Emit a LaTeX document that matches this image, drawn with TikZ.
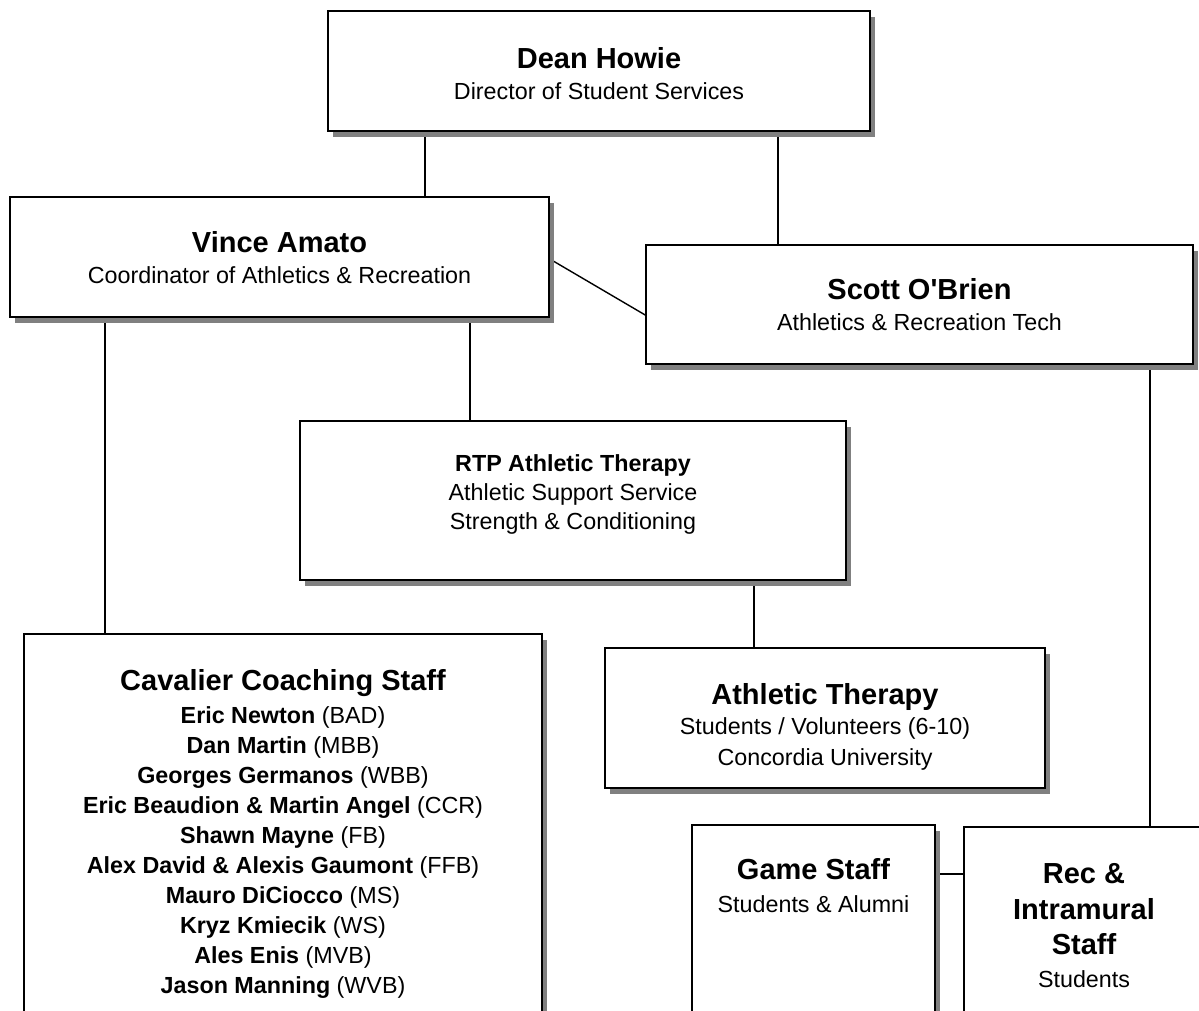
\documentclass[tikz,border=0pt]{standalone}
\usepackage{fontspec}
\setmainfont{Liberation Sans}
\usetikzlibrary{shadows}
\pgfdeclarelayer{bg}
\pgfsetlayers{bg,main}
\newcommand{\hd}[1]{{\fontsize{29}{30}\selectfont\bfseries #1}}
\tikzset{
  box/.style={draw,line width=1.6pt,fill=white,align=center,inner sep=0pt,anchor=north,
    font=\fontsize{23.3}{30}\selectfont,
    drop shadow={shadow xshift=5pt,shadow yshift=-6pt,fill=black!50,opacity=1}},
  link/.style={line width=1.4pt},
}
\begin{document}
\begin{tikzpicture}[x=1pt,y=-1pt]
\useasboundingbox (0,0) rectangle (1199,1011);
% boxes: top edge, last baseline (text height) and bottom edge (text depth)
\node[box,minimum width=542,text height=88.3,text depth=31.7] (dean) at (599,10)
  {\hd{Dean Howie}\\[1pt]Director of Student Services};
\node[box,minimum width=539,text height=86.3,text depth=33.7] (vince) at (279.5,196)
  {\hd{Vince Amato}\\[1pt]Coordinator of Athletics \& Recreation};
\node[box,minimum width=547,text height=85.3,text depth=33.7] (scott) at (919.5,244)
  {\hd{Scott O\textquotesingle Brien}\\[1pt]Athletics \& Recreation Tech};
\node[box,minimum width=546,text height=108.3,text depth=50.7] (rtp) at (573,420)
  {\textbf{RTP Athletic Therapy}\\[-1pt]Athletic Support Service\\[-1pt]Strength \& Conditioning};
\node[box,minimum width=440,text height=117.3,text depth=22.7] (at) at (825,647)
  {\hd{Athletic Therapy}\\Students / Volunteers (6-10)\\[1pt]Concordia University};
\node[box,minimum width=518,text height=359.3,text depth=100] (cav) at (283,633)
  {\hd{Cavalier Coaching Staff}\\[3pt]
   \textbf{Eric Newton} (BAD)\\
   \textbf{Dan Martin} (MBB)\\
   \textbf{Georges Germanos} (WBB)\\
   \textbf{Eric Beaudion \& Martin Angel} (CCR)\\
   \textbf{Shawn Mayne} (FB)\\
   \textbf{Alex David \& Alexis Gaumont} (FFB)\\
   \textbf{Mauro DiCiocco} (MS)\\
   \textbf{Kryz Kmiecik} (WS)\\
   \textbf{Ales Enis} (MVB)\\
   \textbf{Jason Manning} (WVB)};
\node[box,minimum width=243,text height=87.3,text depth=200] (game) at (813.5,824)
  {\hd{Game Staff}\\[3pt]Students \& Alumni};
\node[box,minimum width=240,text height=160.3,text depth=100] (rec) at (1084,826)
  {\hd{Rec \&}\\[6pt]\hd{Intramural}\\[5pt]\hd{Staff}\\[3pt]Students};
% connectors
\begin{pgfonlayer}{bg}
\fill[white] (0,0) rectangle (1199,1011);
\foreach \a/\b/\x in {dean/vince/425,dean/scott/778,vince/cav/105,vince/rtp/470,rtp/at/754,scott/rec/1150}
  \draw[link] (\a.south -| \x,0) -- (\b.north -| \x,0);
\draw[link] (vince.east |- 0,259) -- (scott.west |- 0,315);
\draw[link] (game.east |- 0,874) -- (rec.west |- 0,874);
\end{pgfonlayer}
\end{tikzpicture}
\end{document}
